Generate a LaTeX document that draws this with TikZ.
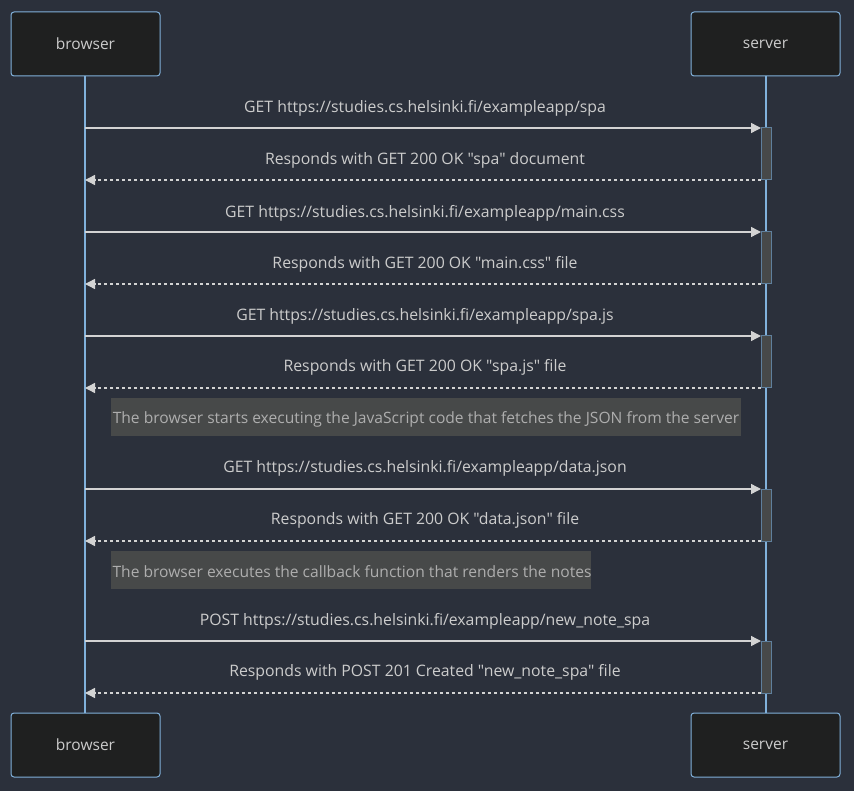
\documentclass[tikz,border=0pt]{standalone}
\usepackage{fontspec}
\setmainfont{Open Sans}[Ligatures=TeXOff]
\usetikzlibrary{arrows.meta}
\definecolor{bgc}{HTML}{2B303B}
\definecolor{actfill}{HTML}{1F2020}
\definecolor{actborder}{HTML}{81B1DB}
\definecolor{lifec}{HTML}{81B1DB}
\definecolor{msgc}{HTML}{D3D3D3}
\definecolor{txtc}{HTML}{CCCCCC}
\definecolor{notefill}{HTML}{474949}
\definecolor{notetxt}{HTML}{AEAEAE}
\definecolor{barfill}{HTML}{474949}
\definecolor{barborder}{HTML}{5F7F9C}
\tikzset{
  x=1pt, y=-1pt,
  actor/.style={draw=actborder, fill=actfill, rounded corners=3pt, line width=1pt,
    minimum width=149pt, minimum height=64pt, inner sep=0pt, text=txtc, font=\fontsize{15.5}{17}\selectfont},
  lifeline/.style={draw=lifec, line width=1.6pt},
  actbar/.style={draw=barborder, fill=barfill, line width=1pt},
  req/.style={draw=msgc, line width=1.4pt, -{Triangle[length=10pt,width=10pt]}},
  resp/.style={draw=msgc, line width=1.4pt, dash pattern=on 3pt off 3pt, -{Triangle[length=10pt,width=10pt]}},
  msglabel/.style={text=txtc, font=\fontsize{15.8}{17}\selectfont, inner sep=0pt},
  notetext/.style={text=notetxt, font=\fontsize{15.6}{17}\selectfont, inner sep=0pt},
}
\begin{document}
\begin{tikzpicture}
  \fill[bgc] (0,0) rectangle (854,791);
  \useasboundingbox (0,0) rectangle (854,791);

  % lifelines
  \draw[lifeline] (85,76) -- (85,713);
  \draw[lifeline] (766,76) -- (766,713);

  % participants
  \node[actor] (bt) at (85.5,44) {browser};
  \node[actor] (st) at (765.5,44) {server};
  \node[actor] (bb) at (85.5,745) {browser};
  \node[actor] (sb) at (765.5,745) {server};

  % activation bars on the server
  \foreach \ya/\yb in {128/180, 232/284, 336/388, 489/541, 641/693}
    \draw[actbar] (761,\ya) rectangle (771,\yb);

  % message anchor points
  \foreach \n/\y in {1/128, 2/180, 3/232, 4/284, 5/336, 6/388, 7/489, 8/541, 9/641, 10/693} {
    \coordinate (b\n) at (85,\y);
    \coordinate (s\n) at (761,\y);
  }

  % requests and responses
  \draw[req] (b1) -- (s1);
  \draw[resp] (s2) -- (b2);
  \draw[req] (b3) -- (s3);
  \draw[resp] (s4) -- (b4);
  \draw[req] (b5) -- (s5);
  \draw[resp] (s6) -- (b6);
  \draw[req] (b7) -- (s7);
  \draw[resp] (s8) -- (b8);
  \draw[req] (b9) -- (s9);
  \draw[resp] (s10) -- (b10);

  % message labels
  \node[msglabel] (l1) at (425,108) {GET https://studies.cs.helsinki.fi/exampleapp/spa};
  \node[msglabel] (l2) at (425,160) {Responds with GET 200 OK "spa" document};
  \node[msglabel] (l3) at (425,213) {GET https://studies.cs.helsinki.fi/exampleapp/main.css};
  \node[msglabel] (l4) at (425,264) {Responds with GET 200 OK "main.css" file};
  \node[msglabel] (l5) at (425,316) {GET https://studies.cs.helsinki.fi/exampleapp/spa.js};
  \node[msglabel] (l6) at (425,367) {Responds with GET 200 OK "spa.js" file};
  \node[msglabel] (l7) at (425,468) {GET https://studies.cs.helsinki.fi/exampleapp/data.json};
  \node[msglabel] (l8) at (425,520) {Responds with GET 200 OK "data.json" file};
  \node[msglabel] (l9) at (425,621) {POST https://studies.cs.helsinki.fi/exampleapp/new\_note\_spa};
  \node[msglabel] (l10) at (425,672) {Responds with POST 201 Created "new\_note\_spa" file};

  % notes
  \fill[notefill] (111,398) rectangle (741,436);
  \node[notetext] (n1) at (426,419) {The browser starts executing the JavaScript code that fetches the JSON from the server};
  \fill[notefill] (111,551) rectangle (591,589);
  \node[notetext] (n2) at (352,572) {The browser executes the callback function that renders the notes};
\end{tikzpicture}
\end{document}
